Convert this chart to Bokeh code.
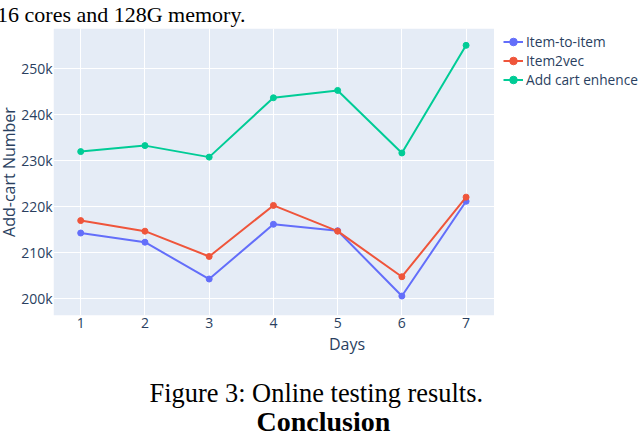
from bokeh.plotting import figure
from bokeh.models import (Range1d, FixedTicker, Legend, LegendItem, Title,
                          BoxAnnotation)
from bokeh.embed import file_html
from bokeh.resources import INLINE

days = [1, 2, 3, 4, 5, 6, 7]
item_to_item = [214300, 212300, 204300, 216200, 214800, 200600, 221200]
item2vec = [217000, 214700, 209200, 220300, 214700, 204800, 222100]
add_cart_enhence = [232000, 233300, 230800, 243700, 245300, 231700, 255100]
series_names = ["Item-to-item", "Item2vec", "Add cart enhence"]
series_colors = ["#636efa", "#EF553B", "#00cc96"]
y_ticks = [200000, 210000, 220000, 230000, 240000, 250000]
y_tick_labels = ["200k", "210k", "220k", "230k", "240k", "250k"]
x_title = "Days"
y_title = "Add-cart Number"
caption = "Figure 3: Online testing results."
top_text = "16 cores and 128G memory."
heading = "Conclusion"

FONT = "Open Sans"
SERIF = "Liberation Serif"
TXT = "#2a3f5f"

# plot-area extent on the day axis; the frame continues to the right so the
# legend (which sits outside the shaded area) is drawn inside it
X_LO, X_AREA_HI, X_FRAME_HI = 0.5764, 7.434, 9.715

p = figure(width=640, height=431, output_backend="svg", toolbar_location=None,
           x_range=Range1d(X_LO, X_FRAME_HI), y_range=Range1d(196370, 258760),
           min_border_left=51, min_border_right=0, min_border_top=28,
           min_border_bottom=116)
p.background_fill_color = "white"
p.border_fill_color = "white"
p.outline_line_color = None
p.add_layout(BoxAnnotation(left=X_LO, right=X_AREA_HI, fill_color="#E5ECF6",
                           fill_alpha=1, line_color=None, level="image"))

for ax in (p.xaxis[0], p.yaxis[0]):
    ax.axis_line_color = None
    ax.major_tick_line_color = None
    ax.minor_tick_line_color = None
    ax.major_tick_in = 0
    ax.major_tick_out = 0
    ax.minor_tick_in = 0
    ax.minor_tick_out = 0
    ax.major_label_text_font = FONT
    ax.major_label_text_font_size = "14px"
    ax.major_label_text_color = TXT
    ax.axis_label_text_font = FONT
    ax.axis_label_text_font_size = "16px"
    ax.axis_label_text_font_style = "normal"
    ax.axis_label_text_color = TXT

p.xaxis.ticker = FixedTicker(ticks=days)
p.xaxis.major_label_standoff = 2
p.xaxis.axis_label = x_title
p.xaxis.axis_label_standoff = 2

p.yaxis.ticker = FixedTicker(ticks=y_ticks)
p.yaxis.major_label_overrides = {t: l for t, l in zip(y_ticks, y_tick_labels)}
p.yaxis.major_label_standoff = 1

p.xgrid.grid_line_color = "white"
p.ygrid.grid_line_color = "white"
p.xgrid.ticker = FixedTicker(ticks=days)
p.ygrid.ticker = FixedTicker(ticks=y_ticks)

items = []
for name, ys, c in zip(series_names, [item_to_item, item2vec, add_cart_enhence], series_colors):
    r1 = p.line(days, ys, line_color=c, line_width=2)
    r2 = p.scatter(days, ys, marker="circle", size=6, fill_color=c, line_color=c)
    items.append(LegendItem(label=name, renderers=[r1, r2]))

legend = Legend(items=items, location=(450, 226), orientation="vertical",
                background_fill_alpha=0, border_line_color=None,
                padding=0, margin=0, spacing=0,
                glyph_width=20, glyph_height=19, label_height=19,
                label_standoff=3,
                label_text_font=FONT, label_text_font_size="13.7px",
                label_text_color=TXT)
p.add_layout(legend, "center")

# y axis title
p.add_layout(Title(text=y_title, align="center", vertical_align="top",
                   standoff=-6, text_font=FONT, text_font_size="16px",
                   text_font_style="normal", text_color=TXT), "left")

# text of the surrounding paper page
p.add_layout(Title(text=top_text, align="right", offset=395,
                   vertical_align="top", standoff=0,
                   text_font=SERIF, text_font_size="22px",
                   text_font_style="normal", text_color="black"), "above")
p.add_layout(Title(text=caption, align="left", offset=96,
                   vertical_align="top", standoff=41,
                   text_font=SERIF, text_font_size="26.4px",
                   text_font_style="normal", text_color="black"), "below")
p.add_layout(Title(text=heading, align="left", offset=203,
                   vertical_align="top", standoff=-50,
                   text_font=SERIF, text_font_size="28px",
                   text_font_style="bold", text_color="black"), "below")

open("out.html", "w").write(file_html(p, INLINE))
